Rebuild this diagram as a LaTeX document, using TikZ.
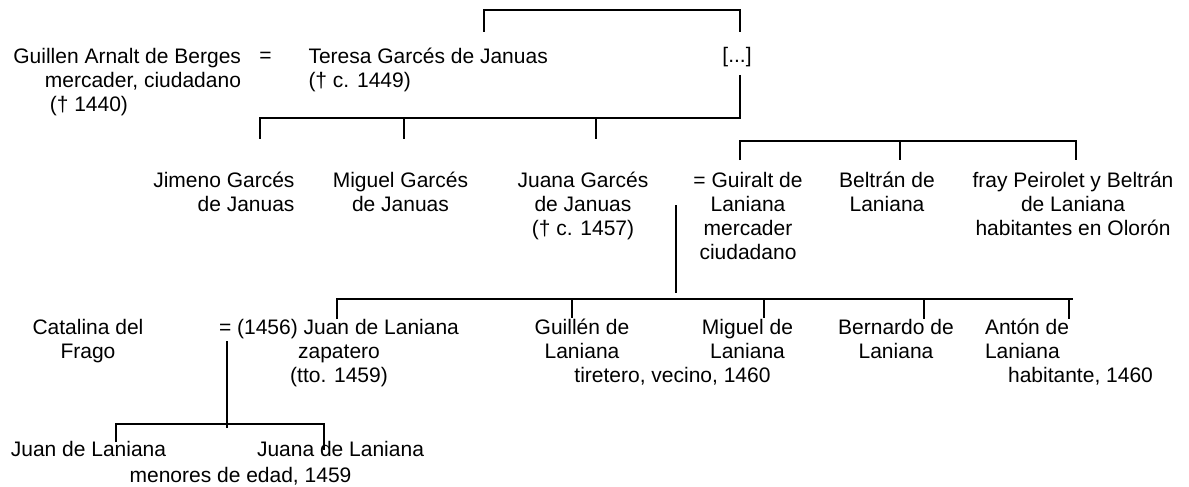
\documentclass[tikz,border=0pt]{standalone}
\usepackage{fontspec}
\setmainfont{Liberation Sans}
\begin{document}
\begin{tikzpicture}[x=1pt,y=-1pt,
  every node/.style={inner sep=0pt,outer sep=0pt,font=\fontsize{21}{24.3}\selectfont},
  person/.style={align=center,anchor=base},
  link/.style={line width=1.6pt}]
\useasboundingbox (0,0) rectangle (1189,487);
% generation 1 (multi-line nodes are placed at the baseline of their last line)
\node[align=right,anchor=base east] (guillen) at (241,111.6) {Guillen Arnalt de Berges\\mercader, ciudadano\\(† 1440)\hbox to 113pt{}};
\node[anchor=base] (eq1) at (265.5,63) {=};
\node[align=left,anchor=base west] (teresa) at (308.5,87.3) {Teresa Garcés de Januas\\(† c. 1449)};
\node[anchor=base] (dots) at (737,63) {[...]};
% generation 2
\node[align=right,anchor=base east] (jimeno) at (294.5,211.3) {Jimeno Garcés\\de Januas};
\node[person] (miguelg) at (400.5,211.3) {Miguel Garcés\\de Januas};
\node[person] (juanag) at (583,235.6) {Juana Garcés\\de Januas\\(† c. 1457)};
\node[person] (guiralt) at (748,259.9) {= Guiralt de\\Laniana\\mercader\\ciudadano};
\node[person] (beltran) at (887,211.3) {Beltrán de\\Laniana};
\node[person] (fray) at (1073,235.6) {fray Peirolet y Beltrán\\de Laniana\\habitantes en Olorón};
% generation 3
\node[person] (catalina) at (88,358.3) {Catalina del\\Frago};
\node[person] (juan) at (339,382.6) {= (1456) Juan de Laniana\\zapatero\\(tto. 1459)};
\node[person] (guillenl) at (582,358.3) {Guillén de\\Laniana};
\node[anchor=base] (gnote) at (672.5,382) {tiretero, vecino, 1460};
\node[person] (miguell) at (747.5,358.3) {Miguel de\\Laniana};
\node[person] (bernardo) at (896,358.3) {Bernardo de\\Laniana};
\node[align=left,anchor=base west] (anton) at (985,358.3) {Antón de\\Laniana};
\node[anchor=base] (anote) at (1080.5,382) {habitante, 1460};
% generation 4
\node[anchor=base] (juanc) at (88.5,456) {Juan de Laniana};
\node[anchor=base] (juanac) at (340.5,456) {Juana de Laniana};
\node[anchor=base] (mnote) at (240.5,482) {menores de edad, 1459};
% bracket coordinates
\coordinate (t1) at (484,32); \coordinate (t1c) at (484,10);
\coordinate (t2) at (740,32); \coordinate (t2c) at (740,10);
\coordinate (d1) at (740,75); \coordinate (d2) at (740,118);
\coordinate (h1) at (260,118);
\coordinate (k1) at (260,139);
\coordinate (k2) at (404,139); \coordinate (k2t) at (404,118);
\coordinate (k3) at (596,139); \coordinate (k3t) at (596,118);
\coordinate (s0) at (740,160); \coordinate (s0t) at (740,141);
\coordinate (s1) at (900,160); \coordinate (s1t) at (900,141);
\coordinate (s2) at (1076,160); \coordinate (s2t) at (1076,141);
\coordinate (m1) at (676,205); \coordinate (m2) at (676,293);
\coordinate (c0l) at (337,299); \coordinate (c0r) at (1073,299);
\coordinate (c1) at (337,319);
\coordinate (c2t) at (572,299); \coordinate (c2) at (572,318);
\coordinate (c3t) at (764,299); \coordinate (c3) at (764,318);
\coordinate (c4t) at (924,299); \coordinate (c4) at (924,319);
\coordinate (c5t) at (1069,299); \coordinate (c5) at (1069,319);
\coordinate (j1) at (227,341); \coordinate (j2) at (227,428);
\coordinate (g0l) at (116,424); \coordinate (g0r) at (324,424);
\coordinate (g1) at (116,442); \coordinate (g2) at (324,450);
% connectors
\draw[link] (t1) -- (t1c) -- (t2c) -- (t2);
\draw[link] (d1) -- (d2) -- (h1) -- (k1);
\draw[link] (k2t) -- (k2);
\draw[link] (k3t) -- (k3);
\draw[link] (s0) -- (s0t) -- (s2t) -- (s2);
\draw[link] (s1t) -- (s1);
\draw[link] (m1) -- (m2);
\draw[link] (c1) -- (c0l) -- (c0r);
\draw[link] (c2t) -- (c2);
\draw[link] (c3t) -- (c3);
\draw[link] (c4t) -- (c4);
\draw[link] (c5t) -- (c5);
\draw[link] (j1) -- (j2);
\draw[link] (g1) -- (g0l) -- (g0r) -- (g2);
\end{tikzpicture}
\end{document}
